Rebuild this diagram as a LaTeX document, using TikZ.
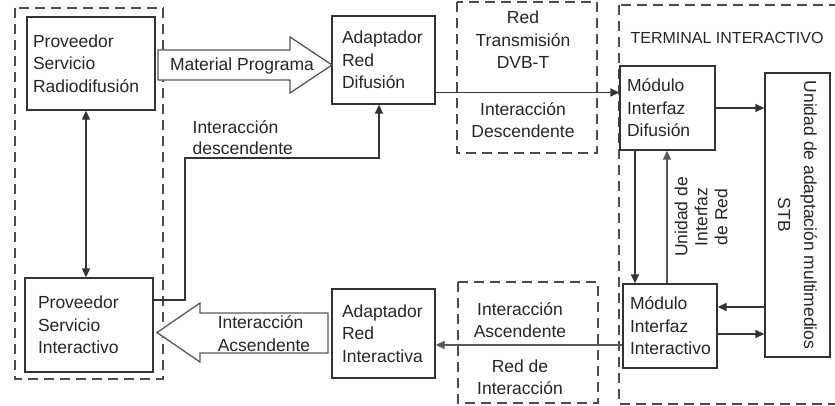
\documentclass[tikz,border=0pt]{standalone}
\usepackage{fontspec}
\setmainfont{Liberation Sans}
\usetikzlibrary{arrows.meta}

\colorlet{linea}{black!80}
\colorlet{tinta}{black!85}
\newcommand{\letra}{\fontsize{17.5}{22.5}\selectfont}

\begin{document}
\begin{tikzpicture}[x=1pt, y=-1pt, line width=1.3pt,
  caja/.style={draw=linea, rectangle, inner xsep=7pt, inner ysep=0pt, align=left, font=\letra, text=tinta},
  texto/.style={font=\letra, text=tinta, align=center, inner sep=0pt},
  zona/.style={draw=black!70, dash pattern=on 10pt off 6pt, line width=1.4pt},
  ancha/.style={draw=black!65, fill=white, line width=1.3pt, line join=miter},
  flecha/.style={draw=linea, -{Triangle[length=9pt, width=8pt]}},
  doble/.style={draw=linea, {Triangle[length=9pt, width=8pt]}-{Triangle[length=9pt, width=8pt]}},
]
  \useasboundingbox (0,0) rectangle (835,406);
  \clip (0,0) rectangle (835,406);
  % zonas punteadas
  \draw[zona] (15,8) rectangle (163,379);
  \draw[zona] (457,2) rectangle (597,153);
  \draw[zona] (458,282) rectangle (598,403);
  \draw[zona] (619,5) rectangle (850,404);

  % cajas
  \node[caja, inner xsep=6pt, text width=116pt, minimum height=93pt] (prs) at (91,63.5) {Proveedor\\Servicio\\Radiodifusión};
  \node[caja, inner xsep=13pt, text width=102pt, minimum height=94pt] (psi) at (89,325) {Proveedor\\Servicio\\Interactivo};
  \node[caja, inner xsep=10pt, text width=83pt, minimum height=88pt] (ard) at (383.5,60) {Adaptador\\Red\\Difusión};
  \node[caja, inner xsep=10pt, text width=83pt, minimum height=89pt] (ari) at (383.5,333.5) {Adaptador\\Red\\Interactiva};
  \node[caja, text width=81pt, minimum height=84pt] (mid) at (667.5,108) {Módulo\\Interfaz\\Difusión};
  \node[caja, text width=80pt, minimum height=84pt] (mii) at (670,326) {Módulo\\Interfaz\\Interactivo};
  \node[caja, minimum width=65pt, minimum height=284pt] (stb) at (797.5,215) {};
  \node[texto, rotate=-90, font=\fontsize{17.5}{26}\selectfont] (tstb) at (stb.center) {Unidad de adaptación multimedios\\STB};

  % flechas anchas
  \draw[ancha] (158,50) -- (290,50) -- (290,37) -- (332,65) -- (290,93) -- (290,80) -- (158,80) -- cycle;
  \node[texto] (tmp) at (242,66) {Material Programa};
  \draw[ancha] (328,313) -- (200,313) -- (200,303) -- (157,332.5) -- (200,362) -- (200,353) -- (328,353) -- cycle;
  \node[texto, align=left, font=\fontsize{17.5}{23}\selectfont] (tas) at (264,333.5) {Interacción\\Acsendente};

  % textos
  \node[texto] (tdvb) at (523,40) {Red\\Transmisión\\DVB-T};
  \node[texto] (tdes) at (523,120) {Interacción\\Descendente};
  \node[texto] (tasc) at (520,320) {Interacción\\Ascendente};
  \node[texto] (trin) at (520,377) {Red de\\Interacción};
  \node[texto, anchor=west, font=\fontsize{16}{20}\selectfont] (tter) at (630,38) {TERMINAL INTERACTIVO};
  \node[texto, anchor=west, align=left, font=\fontsize{17.5}{21}\selectfont] (tid) at (192,137.5) {Interacción\\descendente};
  \node[texto, rotate=90, font=\fontsize{17.5}{20}\selectfont] (tuir) at (701,217) {Unidad de\\Interfaz\\de Red};

  % conexiones
  \draw[doble] ([xshift=-5pt]prs.south) -- ([xshift=-5pt]prs.south |- psi.north);
  \coordinate (c1) at (185,158);
  \draw[flecha] ([yshift=25pt]psi.east) -| (c1) -| ([xshift=-4.5pt]ard.south);
  \draw[flecha] ([yshift=-32.5pt]ard.east) -- ([yshift=-32.5pt]ard.east -| mid.west);
  \draw[flecha] (mid.east) -- (mid.east -| stb.west);
  \draw[flecha] ([xshift=-32.5pt]mid.south) -- ([xshift=-32.5pt]mid.south |- mii.north);
  \draw[flecha, draw=black!65] ([xshift=-3pt]mii.north) -- ([xshift=-3pt]mii.north |- mid.south);
  \draw[flecha] ([yshift=19pt]mii.east -| stb.west) -- ([yshift=19pt]mii.east);
  \draw[flecha] ([yshift=-8pt]mii.east) -- ([yshift=-8pt]mii.east -| stb.west);
  \draw[flecha, draw=black!65] ([yshift=-19pt]mii.west) -- ([yshift=-19pt]mii.west -| ari.east);
\end{tikzpicture}
\end{document}
